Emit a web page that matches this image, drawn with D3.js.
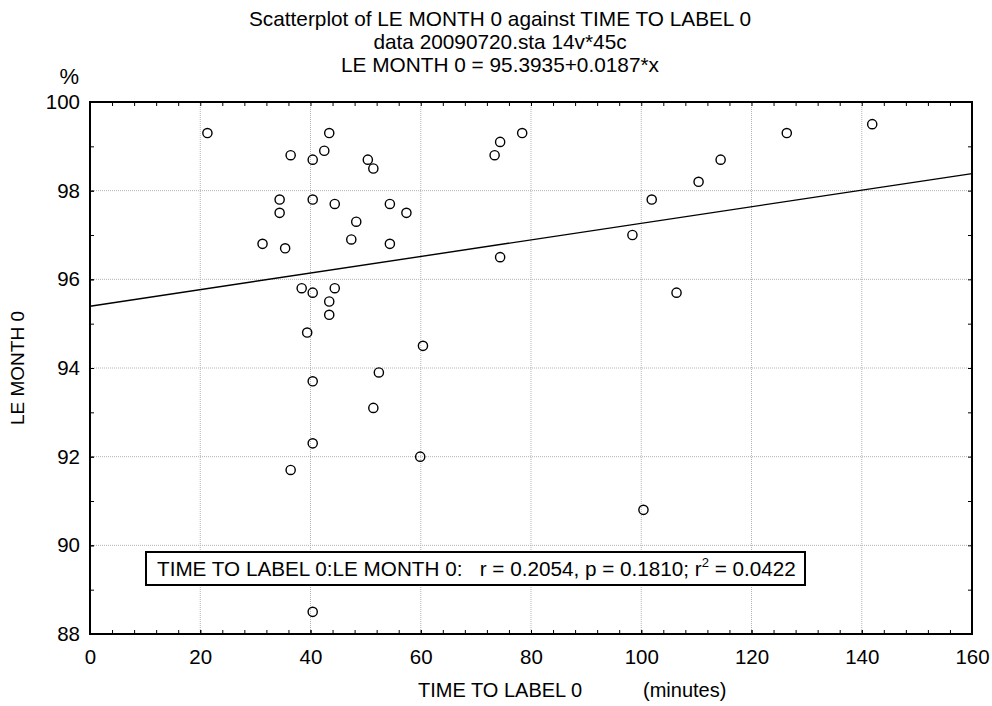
<!DOCTYPE html>
<html>
<head>
<meta charset="utf-8">
<script src="https://cdn.jsdelivr.net/npm/d3@7"></script>
<style>
  html, body { margin: 0; padding: 0; background: #fff; }
  svg { display: block; font-family: Arial, "Liberation Sans", sans-serif; }
  text { white-space: pre; }
</style>
</head>
<body>
<svg id="chart" width="992" height="706"></svg>
<script>
// Observations: time to label (minutes) and LE month 0 (%)
const timeToLabel = [21.3, 31.3, 34.4, 34.4, 35.4, 36.4, 36.4, 38.4, 39.4, 40.4, 40.4, 40.4, 40.4, 40.4, 40.4,
                     42.5, 43.4, 43.4, 43.4, 44.4, 44.4, 47.4, 48.3, 50.4, 51.4, 51.4, 52.4, 54.4, 54.4, 57.4,
                     59.9, 60.4, 73.4, 74.4, 78.4, 74.4, 98.4, 101.9, 106.4, 100.4, 110.4, 114.4, 126.4, 141.9];
const leMonth0 = [99.3, 96.8, 97.8, 97.5, 96.7, 98.8, 91.7, 95.8, 94.8, 98.7, 97.8, 95.7, 93.7, 92.3, 88.5,
                  98.9, 99.3, 95.5, 95.2, 97.7, 95.8, 96.9, 97.3, 98.7, 98.5, 93.1, 93.9, 97.7, 96.8, 97.5,
                  92.0, 94.5, 98.8, 99.1, 99.3, 96.5, 97.0, 97.8, 95.7, 90.8, 98.2, 98.7, 99.3, 99.5];

// Linear fit
const intercept = 95.3935;
const slope = 0.0187;

// Axis ticks
const xTicks = [0, 20, 40, 60, 80, 100, 120, 140, 160];
const yTicks = [88, 90, 92, 94, 96, 98, 100];
const xMinor = d3.range(0, 161, 4);
const yMinor = d3.range(88, 100.5, 1);

const titleLines = [
  "Scatterplot of LE MONTH 0 against TIME TO LABEL 0",
  "data 20090720.sta 14v*45c",
  "LE MONTH 0 = 95.3935+0.0187*x"
];
const statsText = "TIME TO LABEL 0:LE MONTH 0:   r = 0.2054, p = 0.1810; r";
const statsTail = " = 0.0422";

const W = 992, H = 706;
const margin = { top: 102, right: 20, bottom: 72, left: 90 };
const svg = d3.select("#chart");

const x = d3.scaleLinear().domain([0, 160]).range([margin.left, W - margin.right]);
const y = d3.scaleLinear().domain([88, 100]).range([H - margin.bottom, margin.top]);

// Dotted grid at interior major ticks
const grid = svg.append("g").attr("stroke", "#b4b4b4").attr("stroke-width", 1).attr("stroke-dasharray", "1,1");
grid.selectAll("line.vx").data(xTicks.slice(1, -1)).join("line")
  .attr("x1", d => x(d)).attr("x2", d => x(d))
  .attr("y1", y(88)).attr("y2", y(100));
grid.selectAll("line.hy").data(yTicks.slice(1, -1)).join("line")
  .attr("x1", x(0)).attr("x2", x(160))
  .attr("y1", d => y(d)).attr("y2", d => y(d));

// Minor ticks, pointing inward on all four sides
function minorAxis(axis, pos, transform) {
  const g = svg.append("g").attr("transform", transform)
    .call(axis.tickValues(pos).tickSize(-4).tickFormat(""));
  g.select(".domain").remove();
  g.selectAll("line").attr("stroke", "#000").attr("stroke-width", 1);
}
minorAxis(d3.axisBottom(x), xMinor, `translate(0,${y(88)})`);
minorAxis(d3.axisTop(x), xMinor, `translate(0,${y(100)})`);
minorAxis(d3.axisLeft(y), yMinor, `translate(${x(0)},0)`);
minorAxis(d3.axisRight(y), yMinor, `translate(${x(160)},0)`);

// Labelled axes
const xAxis = svg.append("g").attr("transform", `translate(0,${y(88)})`)
  .call(d3.axisBottom(x).tickValues(xTicks).tickSize(-4).tickPadding(15).tickFormat(d3.format("d")));
const yAxis = svg.append("g").attr("transform", `translate(${x(0)},0)`)
  .call(d3.axisLeft(y).tickValues(yTicks).tickSize(-4).tickPadding(10).tickFormat(d3.format("d")));
[xAxis, yAxis].forEach(g => {
  g.select(".domain").remove();
  g.selectAll("line").attr("stroke", "#000");
  g.selectAll("text").attr("font-size", 20.5).attr("fill", "#000")
    .attr("font-family", "Arial, 'Liberation Sans', sans-serif");
});

// Plot frame
svg.append("rect")
  .attr("x", x(0)).attr("y", y(100))
  .attr("width", x(160) - x(0)).attr("height", y(88) - y(100))
  .attr("fill", "none").attr("stroke", "#000").attr("stroke-width", 2);

// Regression line
svg.append("line")
  .attr("x1", x(0)).attr("y1", y(intercept + slope * 0))
  .attr("x2", x(160)).attr("y2", y(intercept + slope * 160))
  .attr("stroke", "#000").attr("stroke-width", 1.4);

// Points
svg.append("g").selectAll("circle")
  .data(timeToLabel.map((t, i) => [t, leMonth0[i]]))
  .join("circle")
  .attr("cx", d => x(d[0])).attr("cy", d => y(d[1])).attr("r", 4.6)
  .attr("fill", "none").attr("stroke", "#000").attr("stroke-width", 1.4);

// Statistics box
const box = svg.append("g");
box.append("rect")
  .attr("x", 146).attr("y", 552).attr("width", 659).attr("height", 33)
  .attr("fill", "#fff").attr("stroke", "#000").attr("stroke-width", 2);
const st = box.append("text").attr("x", 157).attr("y", 576)
  .attr("font-size", 20.7).attr("fill", "#000");
st.append("tspan").text(statsText);
st.append("tspan").attr("dy", -9).attr("font-size", 13).text("2");
st.append("tspan").attr("dy", 9).text(statsTail);

// Titles
svg.append("g").selectAll("text").data(titleLines).join("text")
  .attr("x", 500).attr("y", (d, i) => 26 + i * 23)
  .attr("text-anchor", "middle").attr("font-size", 20.8).attr("fill", "#000")
  .text(d => d);

// Axis titles
svg.append("text").attr("x", 418).attr("y", 697).attr("font-size", 20).attr("fill", "#000")
  .text("TIME TO LABEL 0");
svg.append("text").attr("x", 643).attr("y", 697).attr("font-size", 20).attr("fill", "#000")
  .text("(minutes)");
svg.append("text")
  .attr("transform", `translate(24,${(y(88) + y(100)) / 2}) rotate(-90)`)
  .attr("text-anchor", "middle").attr("font-size", 19).attr("fill", "#000")
  .text("LE MONTH 0");
svg.append("text").attr("x", 79).attr("y", 84).attr("text-anchor", "end")
  .attr("font-size", 22).attr("fill", "#000").text("%");
</script>
</body>
</html>
